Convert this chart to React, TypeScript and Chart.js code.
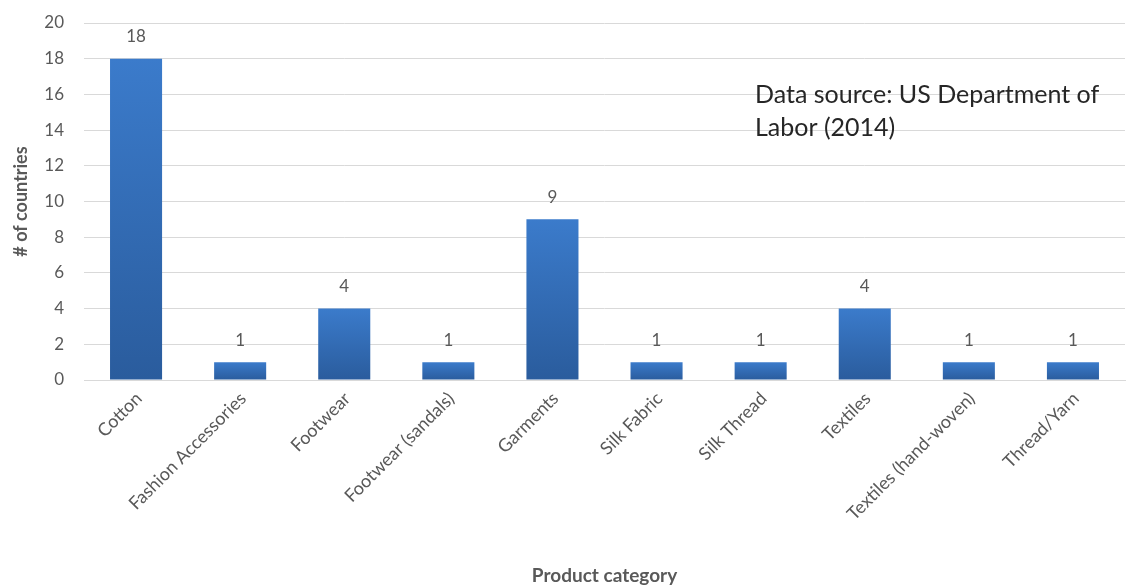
import React, { useEffect, useRef } from "react";
import { Chart, registerables } from "chart.js";

Chart.register(...registerables);

const categories = [
  "Cotton",
  "Fashion Accessories",
  "Footwear",
  "Footwear (sandals)",
  "Garments",
  "Silk Fabric",
  "Silk Thread",
  "Textiles",
  "Textiles (hand-woven)",
  "Thread/Yarn",
];
const countries = [18, 1, 4, 1, 9, 1, 1, 4, 1, 1];
const yMin = 0;
const yMax = 20;
const yStep = 2;
const xTitle = "Product category";
const yTitle = "# of countries";
const sourceNote = ["Data source: US Department of", "Labor (2014)"];

const FONT = "Lato, 'Open Sans', sans-serif";
const TEXT = "#595959";

const labelPlugin = {
  id: "barValueLabels",
  afterDatasetsDraw(chart: any) {
    const ctx = chart.ctx;
    const meta = chart.getDatasetMeta(0);
    ctx.save();
    ctx.font = `17px ${FONT}`;
    ctx.fillStyle = TEXT;
    ctx.textAlign = "center";
    ctx.textBaseline = "middle";
    meta.data.forEach((bar: any, i: number) => {
      ctx.fillText(String(countries[i]), bar.x, bar.y - 22);
    });
    ctx.restore();
  },
};

const notePlugin = {
  id: "sourceNote",
  afterDraw(chart: any) {
    const { ctx, chartArea } = chart;
    ctx.save();
    ctx.font = `25px ${FONT}`;
    ctx.fillStyle = "#262626";
    ctx.textAlign = "left";
    ctx.textBaseline = "middle";
    sourceNote.forEach((line, i) => {
      ctx.fillText(line, chartArea.left + 671, chartArea.top + 72 + i * 33);
    });
    ctx.restore();
  },
};

export default function App() {
  const ref = useRef<HTMLCanvasElement | null>(null);

  useEffect(() => {
    document.body.style.margin = "0";
    const canvas = ref.current;
    if (!canvas) return;
    const chart = new Chart(canvas, {
      type: "bar",
      data: {
        labels: categories,
        datasets: [
          {
            data: countries,
            categoryPercentage: 1,
            barPercentage: 0.5,
            backgroundColor: (c: any) => {
              const ch = c.chart;
              const y = ch.scales?.y;
              if (!ch.chartArea || !y || c.raw == null) return "#3270bb";
              const top = y.getPixelForValue(c.raw);
              const bot = y.getPixelForValue(0);
              if (!isFinite(top) || !isFinite(bot) || top === bot) return "#3270bb";
              const g = ch.ctx.createLinearGradient(0, top, 0, bot);
              g.addColorStop(0, "#3b7bcb");
              g.addColorStop(1, "#2a5c9d");
              return g;
            },
            borderWidth: 0,
          },
        ],
      },
      options: {
        responsive: false,
        animation: false,
        devicePixelRatio: 1,
        layout: { padding: { top: 23, right: 21, bottom: 0, left: 0 } },
        plugins: {
          legend: { display: false },
          tooltip: { enabled: false },
        },
        scales: {
          x: {
            grid: { display: false, drawTicks: false },
            border: { display: true, color: "#d9d9d9" },
            ticks: {
              minRotation: 45,
              maxRotation: 45,
              padding: 8,
              labelOffset: 3,
              color: TEXT,
              font: { family: FONT, size: 18 },
              autoSkip: false,
            },
            title: {
              display: true,
              text: xTitle,
              color: TEXT,
              font: { family: FONT, size: 19, weight: "bold" },
              padding: { top: 0, bottom: 1 },
            },
            afterFit: (s: any) => {
              s.height = 208;
            },
          },
          y: {
            min: yMin,
            max: yMax,
            ticks: {
              stepSize: yStep,
              padding: 2,
              color: TEXT,
              font: { family: FONT, size: 17 },
            },
            grid: {
              color: "#d9d9d9",
              drawTicks: true,
              tickLength: 18,
              tickColor: "rgba(0,0,0,0)",
            },
            border: { display: false },
            title: {
              display: true,
              text: yTitle,
              color: TEXT,
              font: { family: FONT, size: 18, weight: "bold" },
              padding: { top: 10, bottom: 0 },
            },
            afterFit: (s: any) => {
              s.width = 84;
            },
          },
        },
      },
      plugins: [labelPlugin, notePlugin],
    });
    return () => chart.destroy();
  }, []);

  return (
    <div style={{ width: 1146, height: 588, background: "#fff" }}>
      <canvas ref={ref} width={1146} height={588} />
    </div>
  );
}
